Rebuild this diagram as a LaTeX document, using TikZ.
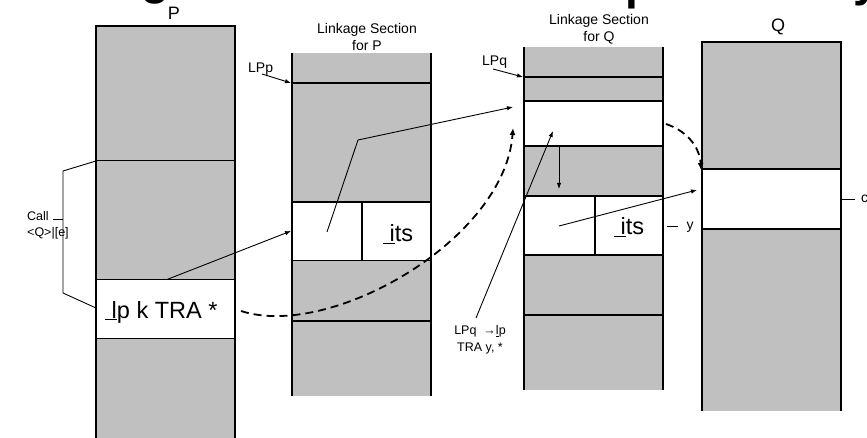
\documentclass[tikz,border=0pt]{standalone}
\usepackage{fontspec}
\setmainfont{Liberation Sans}
\usetikzlibrary{arrows.meta}
\definecolor{memgray}{HTML}{C0C0C0}
\begin{document}
\begin{tikzpicture}[x=1pt,y=-1pt,
  edge/.style={line width=1.8pt},
  thin/.style={line width=0.9pt},
  link/.style={line width=0.9pt,-{Latex[length=6pt,width=4.5pt]}},
  jump/.style={line width=1.8pt,dash pattern=on 8pt off 5pt,-{Latex[length=7pt,width=6pt]}},
  lbl/.style={inner sep=0pt,font=\fontsize{14}{17}\selectfont},
  small/.style={inner sep=0pt,font=\fontsize{12.5}{17}\selectfont},
  head/.style={inner sep=0pt,font=\fontsize{18}{20}\selectfont},
  big/.style={inner sep=0pt,font=\fontsize{23.5}{24}\selectfont},
  title/.style={inner sep=0pt,font=\fontsize{46}{46}\selectfont\bfseries}
]
\useasboundingbox (0,0) rectangle (867,438);

% heading line running above the page edge
\node[title,anchor=base] (tg) at (156,-5) {g};
\node[title,anchor=base] (tp) at (640,-0.5) {p};
\node[title,anchor=base] (ty) at (866,-3) {y};

% ---- frame of P
\fill[memgray] (96,26) rectangle (235,442);
\fill[white] (96,279.5) rectangle (235,338.5);
\draw[edge] (96,442) -- (96,26) -- (235,26) -- (235,442);
\draw[edge] (96,160.5) -- (235,160.5);
\draw[edge] (96,279.5) -- (235,279.5) (96,338.5) -- (235,338.5);
\node[head] (labP) at (174,13) {P};

% ---- linkage section for P
\fill[memgray] (292,53) rectangle (431,396);
\fill[white] (292,202) rectangle (431,260.5);
\draw[edge] (292,53) -- (292,396) (431,53) -- (431,396);
\draw[edge] (292,83) -- (431,83) (292,202) -- (431,202)
             (292,260.5) -- (431,260.5) (292,321) -- (431,321);
\draw[edge] (362,202) -- (362,260.5);
\node[lbl,align=center] (labLP) at (367,37) {Linkage Section\\for P};

% ---- linkage section for Q
\fill[memgray] (524,47) rectangle (663,390);
\fill[white] (524,101) rectangle (663,146);
\fill[white] (524,196) rectangle (663,255);
\draw[edge] (524,47) -- (524,390) (663,47) -- (663,390);
\draw[edge] (524,77) -- (663,77) (524,101) -- (663,101) (524,146) -- (663,146)
             (524,196) -- (663,196) (524,255) -- (663,255) (524,315) -- (663,315);
\draw[edge] (595,196) -- (595,255);
\node[lbl,align=center] (labLQ) at (599,29) {Linkage Section\\for Q};

% ---- frame of Q
\fill[memgray] (702,42) rectangle (841,411);
\fill[white] (702,169) rectangle (841,229);
\draw[edge] (702,411) -- (702,42) -- (841,42) -- (841,411);
\draw[edge] (702,169) -- (841,169) (702,229) -- (841,229);
\node[head] (labQ) at (778,27) {Q};

% ---- texts in the cells
\node[big,anchor=base west] (callP) at (105,318) {\underline{\ l}p k TRA *};
\node[big,anchor=base west] (itsP) at (383,242) {\underline{\ i}ts};
\node[big,anchor=base west] (itsQ) at (614,235) {\underline{\ i}ts};

% ---- side labels
\node[lbl,anchor=base west] (lpp) at (248,73) {LPp};
\node[lbl,anchor=base west] (lpq) at (482,66) {LPq};
\node[small,anchor=base west] (call1) at (27,221) {Call};
\node[small,anchor=base west] (call2) at (27,237) {<Q>|[e]};
\node[small,align=center] (setq) at (480,340) {LPq \ →\underline{l}p\\TRA y, *};
\node[lbl] (ylab) at (690,227) {y};
\node[lbl,anchor=west] (clab) at (861,199) {c};

% ---- anchor points of the connectors
\coordinate (pTop) at (167,279.5);
\coordinate (lpCellIn) at (291,231);
\coordinate (lpCell) at (327,232);
\coordinate (lpBend) at (358,140);
\coordinate (lqTopIn) at (513,107);
\coordinate (jmpFrom) at (241,311);
\coordinate (jmpTo) at (513,128);
\coordinate (retFrom) at (666,124);
\coordinate (retTo) at (701,170);
\coordinate (lqDownA) at (559,146);
\coordinate (lqDownB) at (559,189);
\coordinate (lqCell) at (559,226);
\coordinate (qCellIn) at (697,190);
\coordinate (lqPtr) at (553,131);
\coordinate (setqTop) at (476,318);
\coordinate (lppFrom) at (262,74);
\coordinate (lppEdge) at (291,83);
\coordinate (lpqFrom) at (493,69);
\coordinate (lpqEdge) at (523,77);
\coordinate (yTickA) at (667,226);
\coordinate (yTickB) at (678,226);
\coordinate (cTickA) at (842,199);
\coordinate (cTickB) at (855,199);

% ---- connectors
\draw[link] (pTop) -- (lpCellIn);
\draw[link] (lpCell) -- (lpBend) -- (lqTopIn);
\draw[jump] (jmpFrom) .. controls (330,340) and (505,240) .. (jmpTo);
\draw[jump] (retFrom) .. controls (690,132) and (700,150) .. (retTo);
\draw[link] (lqDownA) -- (lqDownB);
\draw[link] (setqTop) -- (lqPtr);
\draw[link] (lqCell) -- (qCellIn);
\draw[link] (lppFrom) -- (lppEdge);
\draw[link] (lpqFrom) -- (lpqEdge);
\draw[thin] (96,161) -- (63,171) -- (63,293) -- (96,308);
\draw[thin] (53,219) -- (63,219);
\draw[thin] (yTickA) -- (yTickB);
\draw[thin] (cTickA) -- (cTickB);
\end{tikzpicture}
\end{document}
